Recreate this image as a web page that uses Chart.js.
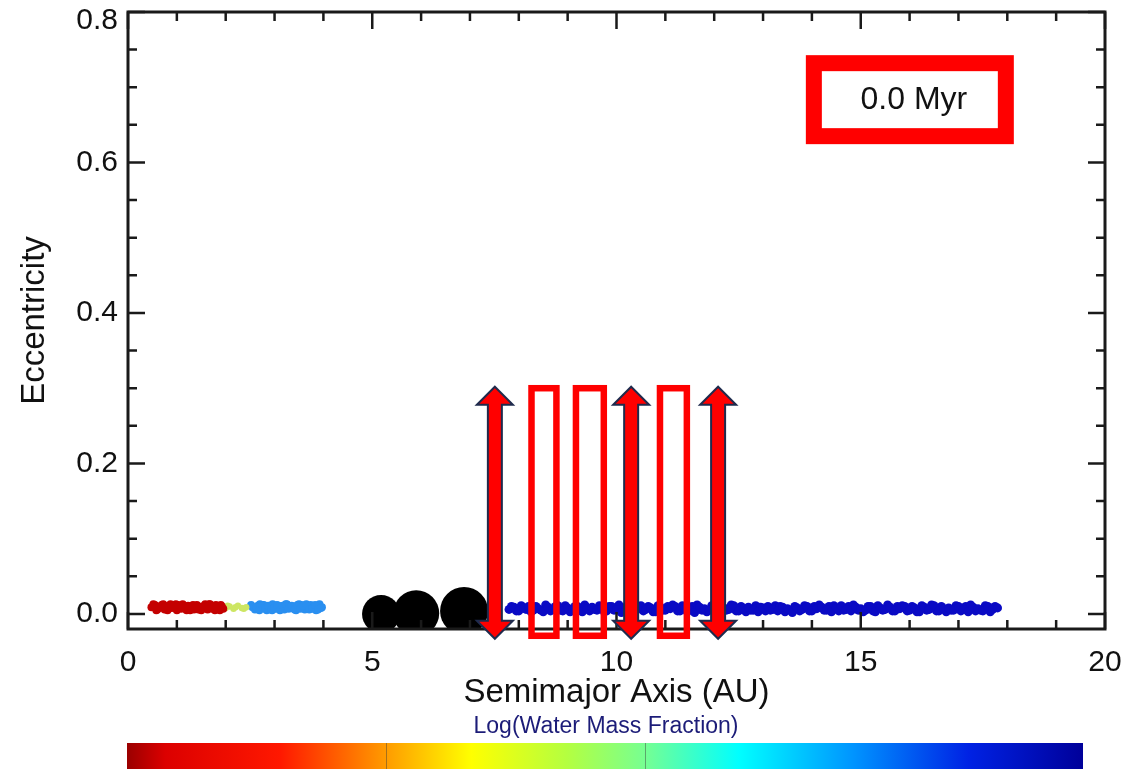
<!DOCTYPE html>
<html>
<head>
<meta charset="utf-8">
<script src="https://cdn.jsdelivr.net/npm/chart.js@4.4.1/dist/chart.umd.min.js"></script>
<style>
  html, body { margin: 0; padding: 0; background: #fff; }
  canvas { display: block; }
</style>
</head>
<body>
<canvas id="orbits" width="1140" height="769"></canvas>
<script>
// axis ticks
const xTickValues = [0, 5, 10, 15, 20]
const xTickLabels = ['0', '5', '10', '15', '20']
const yTickValues = [0, 0.2, 0.4, 0.6, 0.8]
const yTickLabels = ['0.0', '0.2', '0.4', '0.6', '0.8']

// dry inner bodies (semimajor axis in AU, eccentricity)
const dryA = [0.48, 0.55, 0.60, 0.66, 0.72, 0.78, 0.83, 0.90, 0.95, 1.00, 1.06, 1.12, 1.18, 1.23, 1.30, 1.35, 1.41, 1.47, 1.52, 1.58, 1.63, 1.70, 1.75, 1.80, 1.86, 1.92,
              0.58, 0.75, 0.98, 1.20, 1.44, 1.68, 1.88,
              0.52, 0.63, 0.69, 0.75, 0.81, 0.87, 0.93, 1.03, 1.09, 1.15, 1.27, 1.33, 1.38, 1.50, 1.55, 1.61, 1.66, 1.73, 1.78, 1.83, 1.90, 1.95]
const dryE = [0.009, 0.012, 0.006, 0.010, 0.013, 0.007, 0.011, 0.008, 0.012, 0.005, 0.010, 0.013, 0.007, 0.011, 0.009, 0.006, 0.012, 0.008, 0.010, 0.013, 0.006, 0.011, 0.008, 0.012, 0.007, 0.010,
              0.005, 0.006, 0.013, 0.005, 0.006, 0.013, 0.005,
              0.013, 0.008, 0.012, 0.009, 0.005, 0.013, 0.010, 0.012, 0.007, 0.009, 0.005, 0.012, 0.008, 0.005, 0.008, 0.011, 0.013, 0.007, 0.005, 0.009, 0.012, 0.007]

// transition zone bodies
const midA = [2.00, 2.08, 2.16, 2.25, 2.33, 2.42, 2.04, 2.20, 2.37]
const midE = [0.008, 0.010, 0.007, 0.011, 0.008, 0.009, 0.011, 0.009, 0.007]

// moderately wet bodies
const dampA = [2.55, 2.60, 2.66, 2.72, 2.78, 2.84, 2.90, 2.96, 3.02, 3.08, 3.14, 3.20, 3.26, 3.32, 3.38, 3.44, 3.50, 3.56, 3.62, 3.68, 3.74, 3.80, 3.86, 3.92, 3.97,
               2.70, 2.95, 3.25, 3.55, 3.85,
               2.52, 2.63, 2.69, 2.75, 2.81, 2.87, 2.93, 2.99, 3.05, 3.11, 3.17, 3.23, 3.29, 3.35, 3.41, 3.47, 3.53, 3.59, 3.65, 3.71, 3.77, 3.83, 3.89, 3.95]
const dampE = [0.009, 0.006, 0.011, 0.008, 0.012, 0.005, 0.010, 0.013, 0.007, 0.011, 0.009, 0.006, 0.012, 0.008, 0.010, 0.005, 0.013, 0.009, 0.006, 0.011, 0.012, 0.008, 0.010, 0.013, 0.009,
               0.013, 0.005, 0.013, 0.012, 0.005,
               0.012, 0.009, 0.005, 0.012, 0.007, 0.011, 0.006, 0.008, 0.012, 0.005, 0.011, 0.013, 0.007, 0.011, 0.006, 0.012, 0.007, 0.011, 0.013, 0.006, 0.007, 0.012, 0.006, 0.008]

// water-rich outer bodies, two staggered rows
const wetA = [
  7.8, 7.9, 8.0, 8.1, 8.2, 8.3, 8.4, 8.5, 8.6, 8.7,
  8.8, 8.9, 9.0, 9.1, 9.2, 9.3, 9.4, 9.5, 9.6, 9.7,
  9.8, 9.9, 10.0, 10.1, 10.2, 10.3, 10.4, 10.5, 10.6, 10.7,
  10.8, 10.9, 11.0, 11.1, 11.2, 11.3, 11.4, 11.5, 11.6, 11.7,
  11.8, 11.9, 12.0, 12.1, 12.2, 12.3, 12.4, 12.5, 12.6, 12.7,
  12.8, 12.9, 13.0, 13.1, 13.2, 13.3, 13.4, 13.5, 13.6, 13.7,
  13.8, 13.9, 14.0, 14.1, 14.2, 14.3, 14.4, 14.5, 14.6, 14.7,
  14.8, 14.9, 15.0, 15.1, 15.2, 15.3, 15.4, 15.5, 15.6, 15.7,
  15.8, 15.9, 16.0, 16.1, 16.2, 16.3, 16.4, 16.5, 16.6, 16.7,
  16.8, 16.9, 17.0, 17.1, 17.2, 17.3, 17.4, 17.5, 17.6, 17.7,
  17.8
]
const wetE = [
  0.006, 0.009, 0.004, 0.008, 0.010, 0.005, 0.007, 0.003, 0.009, 0.006,
  0.011, 0.004, 0.008, 0.006, 0.010, 0.003, 0.007, 0.009, 0.005, 0.008,
  0.004, 0.010, 0.006, 0.002, 0.009, 0.007, 0.005, 0.011, 0.006, 0.008,
  0.003, 0.009, 0.005, 0.007, 0.010, 0.004, 0.008, 0.006, 0.002, 0.009,
  0.007, 0.005, 0.010, 0.003, 0.008, 0.006, 0.011, 0.004, 0.007, 0.009,
  0.005, 0.003, 0.008, 0.010, 0.006, 0.004, 0.009, 0.007, 0.002, 0.008,
  0.006, 0.010, 0.004, 0.007, 0.009, 0.005, 0.003, 0.008, 0.011, 0.006,
  0.004, 0.009, 0.007, 0.005, 0.010, 0.003, 0.008, 0.006, 0.009, 0.004,
  0.007, 0.010, 0.005, 0.008, 0.003, 0.009, 0.006, 0.011, 0.004, 0.007,
  0.008, 0.005, 0.010, 0.006, 0.003, 0.009, 0.007, 0.004, 0.010, 0.006,
  0.008
]
const wetA2 = [
  7.85, 7.95, 8.05, 8.15, 8.25, 8.35, 8.45, 8.55, 8.65, 8.75,
  8.85, 8.95, 9.05, 9.15, 9.25, 9.35, 9.45, 9.55, 9.65, 9.75,
  9.85, 9.95, 10.05, 10.15, 10.25, 10.35, 10.45, 10.55, 10.65, 10.75,
  10.85, 10.95, 11.05, 11.15, 11.25, 11.35, 11.45, 11.55, 11.65, 11.75,
  11.85, 11.95, 12.05, 12.15, 12.25, 12.35, 12.45, 12.55, 12.65, 12.75,
  12.85, 12.95, 13.05, 13.15, 13.25, 13.35, 13.45, 13.55, 13.65, 13.75,
  13.85, 13.95, 14.05, 14.15, 14.25, 14.35, 14.45, 14.55, 14.65, 14.75,
  14.85, 14.95, 15.05, 15.15, 15.25, 15.35, 15.45, 15.55, 15.65, 15.75,
  15.85, 15.95, 16.05, 16.15, 16.25, 16.35, 16.45, 16.55, 16.65, 16.75,
  16.85, 16.95, 17.05, 17.15, 17.25, 17.35, 17.45, 17.55, 17.65, 17.75
]
const wetE2 = [
  0.010, 0.004, 0.011, 0.006, 0.003, 0.010, 0.005, 0.012, 0.004, 0.010,
  0.005, 0.011, 0.003, 0.010, 0.005, 0.012, 0.004, 0.006, 0.011, 0.003,
  0.010, 0.005, 0.012, 0.008, 0.004, 0.011, 0.009, 0.004, 0.010, 0.003,
  0.011, 0.005, 0.010, 0.012, 0.004, 0.011, 0.003, 0.010, 0.012, 0.005,
  0.003, 0.011, 0.004, 0.010, 0.005, 0.012, 0.004, 0.010, 0.003, 0.005,
  0.011, 0.009, 0.004, 0.005, 0.011, 0.010, 0.003, 0.005, 0.010, 0.004,
  0.011, 0.004, 0.010, 0.012, 0.005, 0.010, 0.011, 0.004, 0.005, 0.010,
  0.012, 0.005, 0.003, 0.010, 0.004, 0.011, 0.005, 0.012, 0.004, 0.010,
  0.011, 0.004, 0.010, 0.003, 0.011, 0.005, 0.012, 0.004, 0.010, 0.003,
  0.005, 0.011, 0.004, 0.010, 0.012, 0.004, 0.005, 0.011, 0.003, 0.010
]

// giant planets
const giantA = [5.18, 5.90, 6.88]
const giantE = [0.000, 0.001, 0.004]
const giantSize = [19, 23, 24]

// overlay marks, in axis units
const arrowA = [7.51, 10.30, 12.08]
const arrowSpan = [-0.033, 0.302]
const slotA = [[8.26, 8.77], [9.17, 9.74], [10.89, 11.44]]
const slotSpan = [-0.029, 0.300]
const clockA = [14.04, 17.97]
const clockE = [0.635, 0.732]
const clockText = '0.0 Myr'

// colour bar (red = dry, blue = wet)
const barStops = [
  [0.00, '#9a0000'], [0.04, '#dc0000'], [0.16, '#ff1800'], [0.27, '#ff9a00'],
  [0.36, '#ffff00'], [0.46, '#b4ff40'], [0.54, '#78ff90'], [0.64, '#00ffff'],
  [0.76, '#0094ff'], [0.88, '#0022e4'], [1.00, '#00009a']
]
const barTicks = [0.271, 0.542]
const barLabel = 'Log(Water Mass Fraction)'

const toPoints = (xs, ys) => xs.map((v, i) => ({ x: v, y: ys[i] }))

Chart.defaults.font.family = "'Liberation Sans', Arial, Helvetica, sans-serif"
Chart.defaults.color = '#111'

function drawArrow(ctx, cx, yTop, yBot) {
  const sw = 7, hw = 18, hl = 18
  ctx.beginPath()
  ctx.moveTo(cx, yTop)
  ctx.lineTo(cx + hw, yTop + hl)
  ctx.lineTo(cx + sw, yTop + hl)
  ctx.lineTo(cx + sw, yBot - hl)
  ctx.lineTo(cx + hw, yBot - hl)
  ctx.lineTo(cx, yBot)
  ctx.lineTo(cx - hw, yBot - hl)
  ctx.lineTo(cx - sw, yBot - hl)
  ctx.lineTo(cx - sw, yTop + hl)
  ctx.lineTo(cx - hw, yTop + hl)
  ctx.closePath()
  ctx.fillStyle = '#ff0000'
  ctx.fill()
  ctx.strokeStyle = '#1f2b4d'
  ctx.lineWidth = 2
  ctx.stroke()
}

// box frame with ticks pointing inwards on all four sides
const framePlugin = {
  id: 'frame',
  beforeDraw(chart) {
    // keep the topmost y label inside the canvas
    const y = chart.scales.y
    y.getLabelItems().forEach(item => {
      const t = item.options.translation
      if (t[1] < chart.chartArea.top + 9) t[1] = chart.chartArea.top + 9
    })
  },
  afterDatasetsDraw(chart) {
    const { ctx, chartArea: a, scales: { x, y } } = chart
    ctx.save()
    ctx.strokeStyle = '#1a1a1a'
    ctx.lineWidth = 2.5
    ctx.beginPath()
    for (let i = 0; i <= 20; i++) {
      const px = x.getPixelForValue(i)
      const len = i % 5 === 0 ? 17 : 9
      ctx.moveTo(px, a.bottom); ctx.lineTo(px, a.bottom - len)
      ctx.moveTo(px, a.top); ctx.lineTo(px, a.top + len)
    }
    for (let i = 0; i <= 16; i++) {
      const py = y.getPixelForValue(i * 0.05)
      const len = i % 4 === 0 ? 17 : 9
      ctx.moveTo(a.left, py); ctx.lineTo(a.left + len, py)
      ctx.moveTo(a.right, py); ctx.lineTo(a.right - len, py)
    }
    ctx.stroke()
    ctx.lineWidth = 3
    ctx.strokeRect(a.left, a.top, a.right - a.left, a.bottom - a.top)
    ctx.restore()
  },
  afterDraw(chart) {
    const { ctx, scales: { x, y } } = chart
    ctx.save()

    // double-headed arrows
    arrowA.forEach(v => drawArrow(ctx, x.getPixelForValue(v), y.getPixelForValue(arrowSpan[1]), y.getPixelForValue(arrowSpan[0])))

    // hollow slots
    ctx.strokeStyle = '#ff0000'
    ctx.lineWidth = 6.5
    slotA.forEach(([l, r]) => {
      const x0 = x.getPixelForValue(l), x1 = x.getPixelForValue(r)
      const y0 = y.getPixelForValue(slotSpan[1]), y1 = y.getPixelForValue(slotSpan[0])
      ctx.strokeRect(x0, y0, x1 - x0, y1 - y0)
    })

    // time stamp
    const cx0 = x.getPixelForValue(clockA[0]), cx1 = x.getPixelForValue(clockA[1])
    const cy0 = y.getPixelForValue(clockE[1]), cy1 = y.getPixelForValue(clockE[0])
    ctx.lineWidth = 16
    ctx.strokeRect(cx0, cy0, cx1 - cx0, cy1 - cy0)
    ctx.fillStyle = '#111'
    ctx.font = "32px 'Liberation Sans', Arial, sans-serif"
    ctx.textAlign = 'center'
    ctx.textBaseline = 'middle'
    ctx.fillText(clockText, (cx0 + cx1) / 2 + 4, (cy0 + cy1) / 2 + 1)

    // colour bar and its caption
    const bx0 = 127, bx1 = 1083, by0 = 743, by1 = 769
    const grad = ctx.createLinearGradient(bx0, 0, bx1, 0)
    barStops.forEach(([f, c]) => grad.addColorStop(f, c))
    ctx.fillStyle = grad
    ctx.fillRect(bx0, by0, bx1 - bx0, by1 - by0)
    ctx.strokeStyle = 'rgba(60,60,60,0.45)'
    ctx.lineWidth = 1
    ctx.beginPath()
    barTicks.forEach(f => {
      const px = Math.round(bx0 + f * (bx1 - bx0)) + 0.5
      ctx.moveTo(px, by0); ctx.lineTo(px, by1)
    })
    ctx.stroke()
    ctx.fillStyle = '#1c1c78'
    ctx.font = "23px 'Liberation Sans', Arial, sans-serif"
    ctx.fillText(barLabel, 606, 727)
    ctx.restore()
  }
}

const bodyStyle = { pointBorderWidth: 0, pointHoverRadius: 0 }

new Chart(document.getElementById('orbits'), {
  type: 'scatter',
  data: {
    datasets: [
      { label: 'dry', data: toPoints(dryA, dryE), pointRadius: 4, pointBackgroundColor: '#c40000', ...bodyStyle },
      { label: 'transition', data: toPoints(midA, midE), pointRadius: 3.2, pointBackgroundColor: '#cde663', ...bodyStyle },
      { label: 'damp', data: toPoints(dampA, dampE), pointRadius: 4, pointBackgroundColor: '#2a8ff0', ...bodyStyle },
      { label: 'wet', data: toPoints(wetA, wetE), pointRadius: 4.5, pointBackgroundColor: '#0a0ac4', ...bodyStyle },
      { label: 'wet2', data: toPoints(wetA2, wetE2), pointRadius: 4.5, pointBackgroundColor: '#0a0ac4', ...bodyStyle },
      { label: 'giants', data: toPoints(giantA, giantE), pointRadius: giantSize, pointBackgroundColor: '#000', clip: 0, ...bodyStyle }
    ]
  },
  options: {
    responsive: false,
    animation: false,
    events: [],
    layout: { autoPadding: false, padding: { left: 0, right: 35, top: 12, bottom: 0 } },
    plugins: { legend: { display: false }, tooltip: { enabled: false } },
    scales: {
      x: {
        type: 'linear',
        min: 0,
        max: 20,
        grid: { display: false, drawTicks: false },
        border: { display: false },
        afterBuildTicks: s => { s.ticks = xTickValues.map(v => ({ value: v })) },
        afterFit: s => { s.height = 140; s.paddingLeft = 0; s.paddingRight = 0 },
        ticks: {
          padding: 16,
          maxRotation: 0,
          autoSkip: false,
          color: '#111',
          font: { size: 30 },
          callback: (v, i) => xTickLabels[i]
        },
        title: {
          display: true,
          text: 'Semimajor Axis (AU)',
          color: '#111',
          font: { size: 33 },
          padding: { top: 0, bottom: 56 }
        }
      },
      y: {
        type: 'linear',
        min: -0.02,
        max: 0.8,
        grid: { display: false, drawTicks: false },
        border: { display: false },
        afterBuildTicks: s => { s.ticks = yTickValues.map(v => ({ value: v })) },
        afterFit: s => { s.width = 128; s.paddingTop = 0; s.paddingBottom = 0 },
        ticks: {
          padding: 10,
          autoSkip: false,
          color: '#111',
          font: { size: 30 },
          callback: (v, i) => yTickLabels[i]
        },
        title: {
          display: true,
          text: 'Eccentricity',
          color: '#111',
          font: { size: 33 },
          padding: { top: 15, bottom: 0 }
        }
      }
    }
  },
  plugins: [framePlugin]
})
</script>
</body>
</html>
